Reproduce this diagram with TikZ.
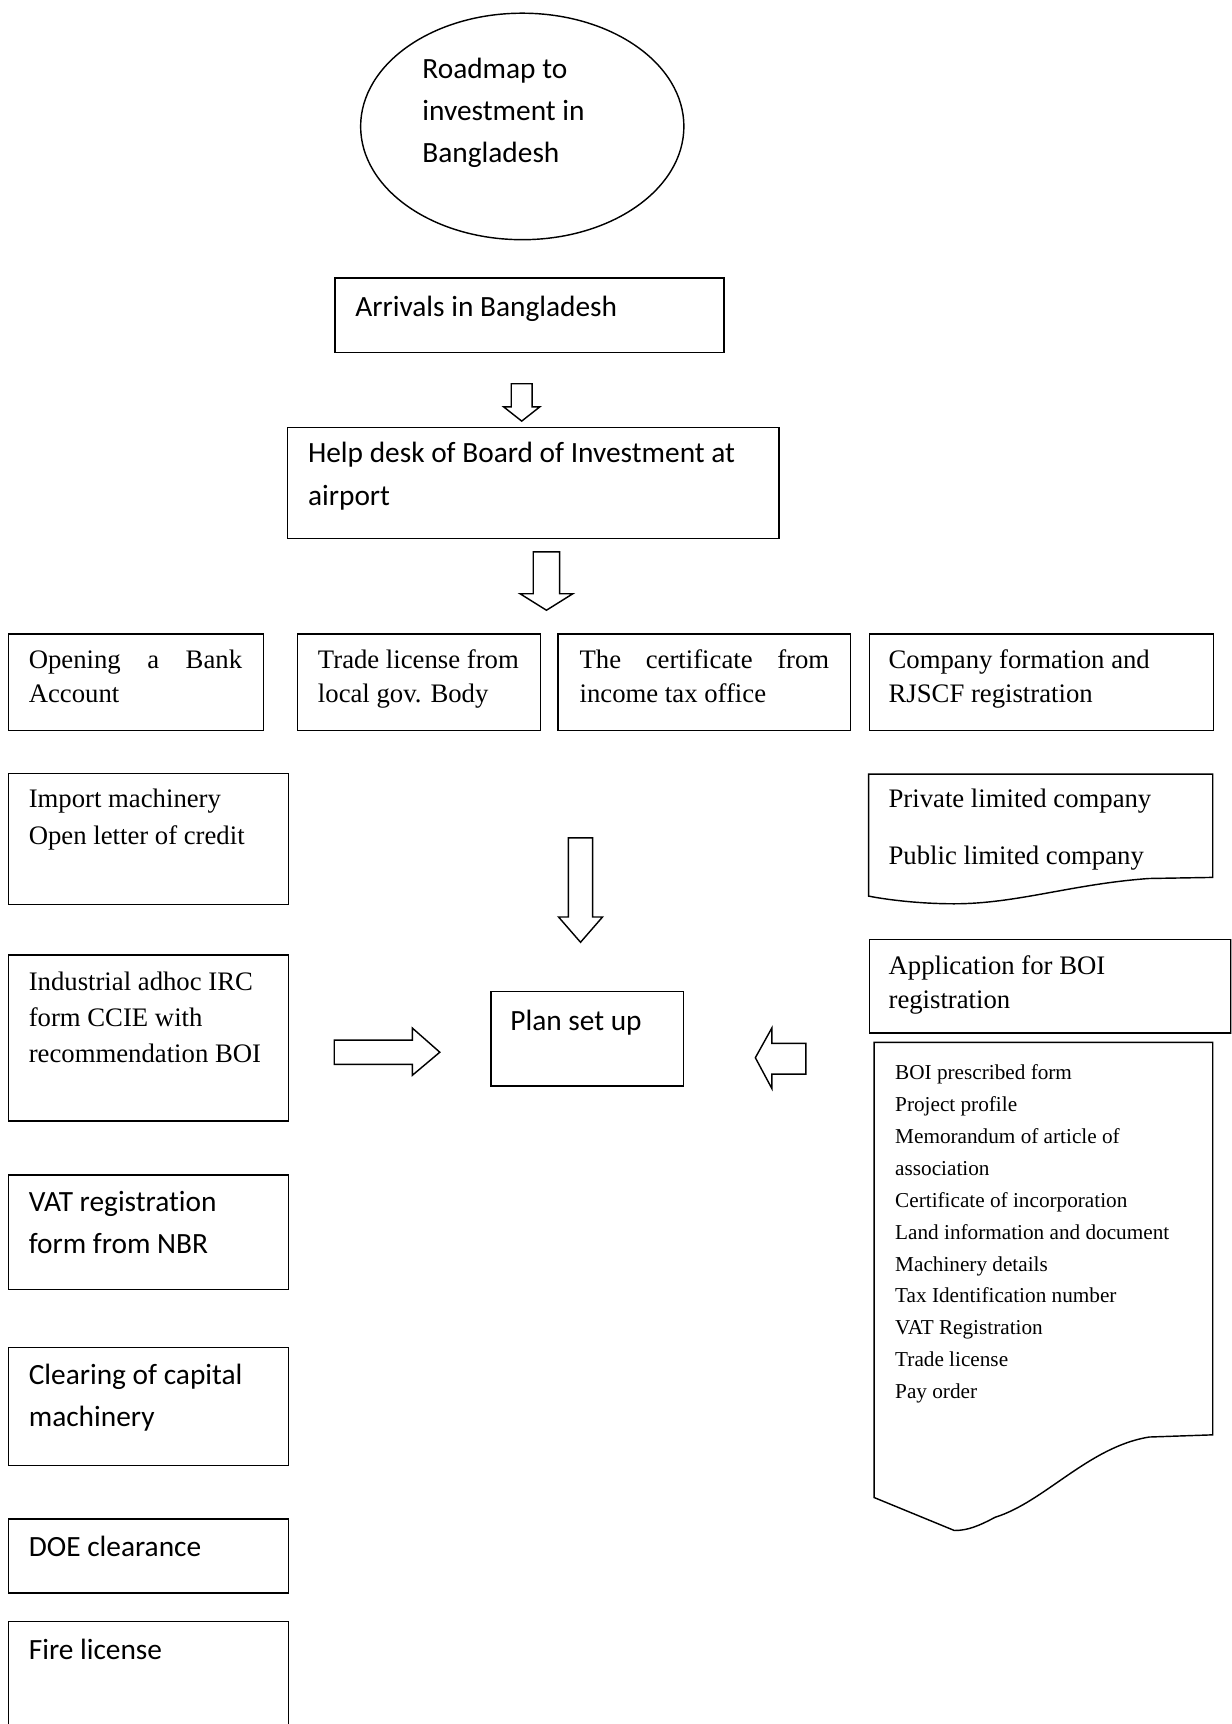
\documentclass[tikz,border=0pt]{standalone}
\usepackage{fontspec}
\setmainfont{Liberation Serif}
\newfontfamily\calfont[Ligatures=NoCommon]{Carlito}
\usetikzlibrary{shapes.geometric}
\begin{document}
\begin{tikzpicture}[x=1pt,y=-1pt,
  lw/.style={line width=1.3pt},
  box/.style={draw, lw, inner sep=0, anchor=north west},
  sans/.style={font=\calfont\fontsize{26.7}{38.5}\selectfont, inner sep=0, anchor=base west, align=left},
  serif/.style={font=\fontsize{24.3}{31}\selectfont, inner sep=0, anchor=base west, align=left},
  small/.style={font=\fontsize{19.3}{29}\selectfont, inner sep=0, anchor=base west, align=left},
  barrow/.style={draw, lw, line join=miter}]
\useasboundingbox (0,0) rectangle (1120,1568);
\clip (0,0) rectangle (1120,1568);
% (text nodes are placed at the baseline of their last line)

% title ellipse
\node[draw, lw, ellipse, minimum width=294, minimum height=206, inner sep=0] (road) at (475,115) {};
\node[sans] (roadt) at (384,148) {Roadmap to\\investment in\\Bangladesh};

% arrivals
\node[box, minimum width=354, minimum height=68] (arr) at (304,252) {};
\node[sans] (arrt) at (323,288) {Arrivals in Bangladesh};

% help desk
\node[box, minimum width=447, minimum height=101] (help) at (261,388) {};
\node[sans] (helpt) at (280,459.5) {Help desk of Board of Investment at\\airport};

% block arrows (top)
\draw[barrow] (465,349) -- (484,349) -- (484,370) -- (491,370) -- (474.5,383) -- (458,370) -- (465,370) -- cycle;
\draw[barrow] (485,502) -- (509,502) -- (509,540) -- (521,540) -- (497,555) -- (473,540) -- (485,540) -- cycle;

% row of four
\node[box, minimum width=232, minimum height=88] (bank) at (7,576) {};
\node[serif] (bankt) at (26,639) {\makebox[194pt][s]{Opening a Bank}\\Account};
\node[box, minimum width=221, minimum height=88] (trade) at (270,576) {};
\node[serif] (tradet) at (289,639) {Trade license from\\local gov. Body};
\node[box, minimum width=266, minimum height=88] (cert) at (507,576) {};
\node[serif] (certt) at (527,639) {\makebox[227pt][s]{The certificate from}\\income tax office};
\node[box, minimum width=313, minimum height=88] (comp) at (790,576) {};
\node[serif] (compt) at (808,639) {Company formation and\\RJSCF registration};

% import machinery
\node[box, minimum width=255, minimum height=119] (imp) at (7,703) {};
\node[serif] (impt) at (26,768) {Import machinery\\[3pt]Open letter of credit};

% private / public document shape
\draw[lw] (790,704) -- (1103,704) -- (1103,798) -- (1045,799)
  .. controls (975,804) and (925,822) .. (868,822)
  .. controls (835,822) and (805,818) .. (790,815) -- cycle;
\node[serif] (privt) at (808,786) {Private limited company\\[21pt]Public limited company};

% big down arrow
\draw[barrow] (517,762) -- (539,762) -- (539,834) -- (548,834) -- (528,857) -- (508,834) -- (517,834) -- cycle;

% industrial
\node[box, minimum width=255, minimum height=151] (ind) at (7,868) {};
\node[serif, font=\fontsize{24.3}{32.5}\selectfont] (indt) at (26,966) {Industrial adhoc IRC\\form CCIE with\\recommendation BOI};

% plan set up
\node[box, minimum width=175, minimum height=86] (plan) at (446,901) {};
\node[sans] (plant) at (464,937) {Plan set up};

% side arrows
\draw[barrow] (304,946) -- (375,946) -- (375,935) -- (400,957) -- (375,978) -- (375,968) -- (304,968) -- cycle;
\draw[barrow] (733,949) -- (702,949) -- (702,935) -- (687,962) -- (702,990) -- (702,977) -- (733,977) -- cycle;

% application for BOI
\node[box, minimum width=329, minimum height=85] (app) at (790,854) {};
\node[serif] (appt) at (808,917) {Application for BOI\\registration};

% document list shape
\draw[lw] (795,948) -- (1103,948) -- (1103,1305) -- (1045,1307)
  .. controls (990,1316) and (950,1366) .. (905,1380)
  .. controls (890,1388) and (880,1392) .. (868,1392)
  -- (795,1362) -- cycle;
\node[small] (listt) at (814,1272) {BOI prescribed form\\Project profile\\Memorandum of article of\\association\\Certificate of incorporation\\Land information and document\\Machinery details\\Tax Identification number\\VAT Registration\\Trade license\\Pay order};

% left column lower boxes
\node[box, minimum width=255, minimum height=104] (vat) at (7,1068) {};
\node[sans] (vatt) at (26,1140.5) {VAT registration\\form from NBR};
\node[box, minimum width=255, minimum height=107] (clr) at (7,1225) {};
\node[sans] (clrt) at (26,1297.5) {Clearing of capital\\machinery};
\node[box, minimum width=255, minimum height=67] (doe) at (7,1381) {};
\node[sans] (doet) at (26,1416) {DOE clearance};
\node[box, minimum width=255, minimum height=130] (fire) at (7,1474) {};
\node[sans] (firet) at (26,1509) {Fire license};
\end{tikzpicture}
\end{document}
